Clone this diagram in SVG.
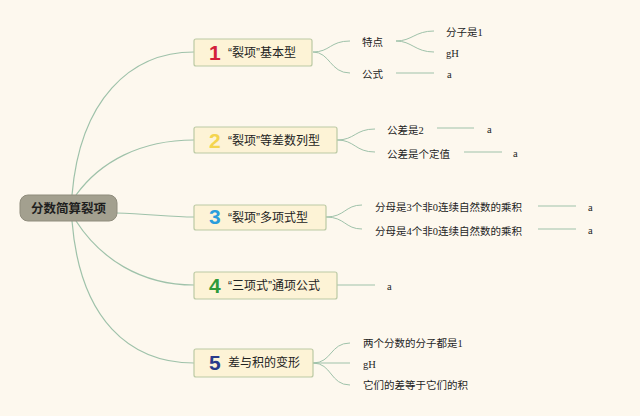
<svg xmlns="http://www.w3.org/2000/svg" width="640" height="416" viewBox="0 0 640 416">
<style>
.bg{fill:#fdf8ee}
.conn path{fill:none;stroke:#9fc2aa;stroke-width:1}
.conn path.main{stroke-width:1.2}
.root rect{fill:#a3a08f;stroke:#8f8c7c;stroke-width:1}
.root text{font-family:"Liberation Sans","Noto Sans CJK SC",sans-serif;font-weight:bold;font-size:12.5px;fill:#1e1e1e}
.br rect{fill:#fdf3d6;stroke:#bccaa4;stroke-width:1.2}
.num{font-family:"Liberation Sans",sans-serif;font-weight:bold;font-size:21px}
.bl{font-family:"Liberation Sans","Noto Sans CJK SC",sans-serif;font-size:12px;fill:#222}
.sl{font-family:"Liberation Serif","Noto Sans CJK SC",serif;font-size:10.5px;fill:#1e1e1e}
</style>
<rect class="bg" x="0" y="0" width="640" height="416"/>
<g id="connectors" class="conn">
<path class="main" d="M72,195 C80,100 130,52 194,52"/>
<path class="main" d="M76,195 C100,162 140,140 194,140"/>
<path class="main" d="M116,213 C150,214 170,217 194,217"/>
<path class="main" d="M76,221 C100,258 140,285 194,285"/>
<path class="main" d="M72,221 C80,320 130,363 194,363"/>
<path d="M313,52 C330,52 330,41 350,41"/>
<path d="M313,52 C330,52 330,73 350,73"/>
<path d="M396,41 C412,41 415,31 434,31"/>
<path d="M396,41 C412,41 415,52 434,52"/>
<path d="M396,73 L434,73"/>
<path d="M337,140 C355,140 355,129 375,129"/>
<path d="M337,140 C355,140 355,152 375,152"/>
<path d="M437,128 L474,128"/>
<path d="M464,152 L502,152"/>
<path d="M326,217 C345,217 345,205 362,205"/>
<path d="M326,217 C345,217 345,229 362,229"/>
<path d="M538,206 L576,206"/>
<path d="M538,229 L576,229"/>
<path d="M337,285 L375,285"/>
<path d="M313,363 C332,363 330,343 350,343"/>
<path d="M313,363 L350,363"/>
<path d="M313,363 C332,363 330,385 350,385"/>
</g>
<g id="root" class="root">
<rect x="20" y="195" width="97" height="26" rx="8"/>
<text x="68.5" y="213" text-anchor="middle">分数简算裂项</text>
</g>
<g id="b1" class="br">
<rect x="194" y="39" width="118" height="27" rx="2"/>
<text class="num" x="209" y="60" fill="#d3203b">1</text>
<text class="bl" x="228" y="57">“裂项”基本型</text>
</g>
<g id="b2" class="br">
<rect x="194" y="127" width="143" height="26" rx="2"/>
<text class="num" x="209" y="148" fill="#f4d54e">2</text>
<text class="bl" x="228" y="145">“裂项”等差数列型</text>
</g>
<g id="b3" class="br">
<rect x="194" y="205" width="132" height="25" rx="2"/>
<text class="num" x="209" y="224" fill="#2a9ddc">3</text>
<text class="bl" x="228" y="222">“裂项”多项式型</text>
</g>
<g id="b4" class="br">
<rect x="194" y="272" width="143" height="27" rx="2"/>
<text class="num" x="209" y="293" fill="#2f9a3b">4</text>
<text class="bl" x="228" y="290">“三项式”通项公式</text>
</g>
<g id="b5" class="br">
<rect x="194" y="349" width="119" height="28" rx="2"/>
<text class="num" x="209" y="370" fill="#283a8a">5</text>
<text class="bl" x="228" y="367">差与积的变形</text>
</g>
<g id="b1-leaves">
<text class="sl" x="362" y="45.5">特点</text>
<text class="sl" x="446" y="36">分子是1</text>
<text class="sl" x="446" y="57">gH</text>
<text class="sl" x="362" y="77.5">公式</text>
<text class="sl" x="447" y="78">a</text>
</g>
<g id="b2-leaves">
<text class="sl" x="387" y="133.5">公差是2</text>
<text class="sl" x="487" y="133">a</text>
<text class="sl" x="387" y="157.5">公差是个定值</text>
<text class="sl" x="513" y="157">a</text>
</g>
<g id="b3-leaves">
<text class="sl" x="375" y="210.5">分母是3个非0连续自然数的乘积</text>
<text class="sl" x="588" y="211">a</text>
<text class="sl" x="375" y="234.5">分母是4个非0连续自然数的乘积</text>
<text class="sl" x="588" y="234">a</text>
</g>
<g id="b4-leaves">
<text class="sl" x="387" y="290">a</text>
</g>
<g id="b5-leaves">
<text class="sl" x="363" y="346.5">两个分数的分子都是1</text>
<text class="sl" x="363" y="367.5">gH</text>
<text class="sl" x="363" y="388.5">它们的差等于它们的积</text>
</g>
</svg>
